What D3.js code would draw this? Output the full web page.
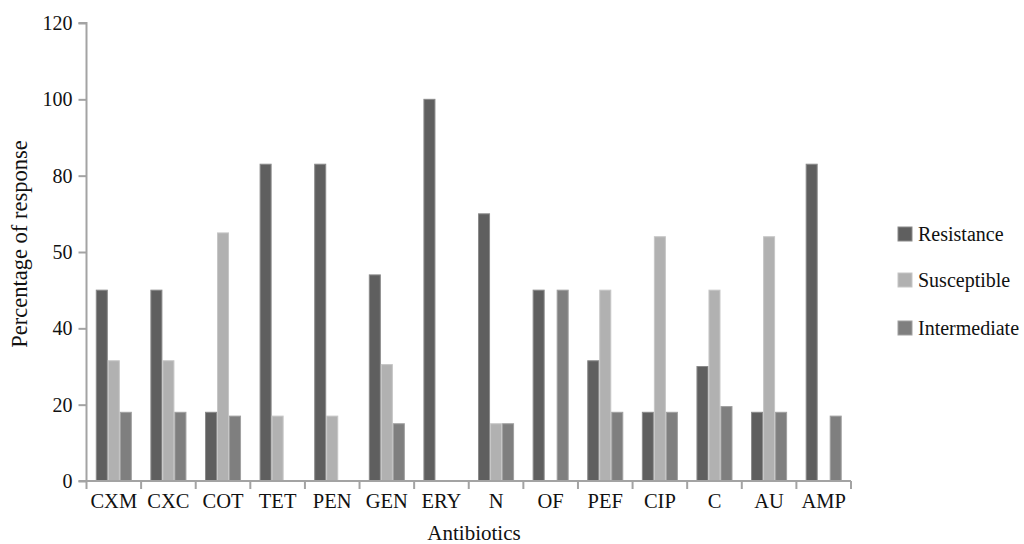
<!DOCTYPE html>
<html>
<head>
<meta charset="utf-8">
<script src="https://cdn.jsdelivr.net/npm/d3@7/dist/d3.min.js"></script>
<style>
  html, body { margin: 0; padding: 0; background: #fff; }
  svg { display: block; }
  svg text { font-family: "Liberation Serif", "Times New Roman", Tinos, "DejaVu Serif", "Noto Serif", serif !important; fill: #111; }
</style>
</head>
<body>
<svg id="chart" width="1024" height="544"></svg>
<script>
const categories = ["CXM","CXC","COT","TET","PEN","GEN","ERY","N","OF","PEF","CIP","C","AU","AMP"];
const seriesNames = ["Resistance","Susceptible","Intermediate"];
const resistance   = [50, 50, 18, 83, 83, 54, 100, 70, 50, 31.5, 18, 30, 18, 83];
const susceptible  = [31.5, 31.5, 65, 17, 17, 30.5, 0, 15, 0, 50, 64, 50, 64, 0];
const intermediate = [18, 18, 17, 0, 0, 15, 0, 15, 50, 18, 18, 19.5, 18, 17];
const tickValues = [0, 20, 40, 60, 80, 100, 120];
const tickLabels = ["0", "20", "40", "50", "80", "100", "120"];
const colors = ["#5f5f5f", "#b1b1b1", "#7f7f7f"];
const strokes = ["#8a8a8a", "#c6c6c6", "#a0a0a0"];

const values = [resistance, susceptible, intermediate];
const svg = d3.select("#chart");
const mLeft = 86.5, mRight = 851, mTop = 23, mBottom = 481;
const fontStack = '"Liberation Serif", "Times New Roman", Tinos, "DejaVu Serif", "Noto Serif", serif';

const x0 = d3.scaleBand().domain(categories).range([mLeft, mRight]).paddingInner(0.34).paddingOuter(0.17);
const x1 = d3.scaleBand().domain(seriesNames).range([0, x0.bandwidth()]);
const y = d3.scaleLinear().domain([0, 120]).range([mBottom, mTop]);
const xb = d3.scaleLinear().domain([0, categories.length]).range([mLeft, mRight]);

const axisColor = "#a3a3a3";

// bars
const groups = svg.append("g").selectAll("g").data(categories).join("g")
  .attr("transform", d => `translate(${x0(d)},0)`);
groups.selectAll("rect")
  .data((c, i) => seriesNames.map((s, k) => ({ s, k, v: values[k][i] })).filter(d => d.v > 0))
  .join("rect")
  .attr("x", d => x1(d.s) + 0.5)
  .attr("width", x1.bandwidth() - 1)
  .attr("y", d => y(d.v))
  .attr("height", d => y(0) - y(d.v))
  .attr("fill", d => colors[d.k])
  .attr("stroke", d => strokes[d.k])
  .attr("stroke-width", 1);

// y axis
const yAxis = d3.axisLeft(y).tickValues(tickValues).tickFormat((d, i) => tickLabels[i]).tickSize(8).tickPadding(6);
const gy = svg.append("g").attr("transform", `translate(${mLeft},0)`).call(yAxis)
  .attr("font-family", fontStack).attr("font-size", 20);
gy.select(".domain").attr("stroke", axisColor).attr("stroke-width", 2).attr("d", `M-8,${mTop}H0V${mBottom}`);
gy.selectAll(".tick line").attr("stroke", axisColor).attr("stroke-width", 2);
gy.selectAll(".tick text").attr("fill", "#111");

// x axis baseline + boundary ticks
const gx = svg.append("g").attr("transform", `translate(0,${mBottom})`);
gx.append("line").attr("x1", mLeft - 8).attr("x2", mRight).attr("y1", 0).attr("y2", 0)
  .attr("stroke", axisColor).attr("stroke-width", 2);
gx.selectAll("line.bt").data(d3.range(categories.length + 1)).join("line").attr("class", "bt")
  .attr("x1", d => xb(d)).attr("x2", d => xb(d)).attr("y1", 0).attr("y2", 8)
  .attr("stroke", axisColor).attr("stroke-width", 2);
const xAxis = d3.axisBottom(x0).tickSize(0).tickPadding(0);
const gxl = svg.append("g").attr("transform", `translate(0,${mBottom})`).call(xAxis)
  .attr("font-family", fontStack).attr("font-size", 20.5);
gxl.select(".domain").remove();
gxl.selectAll(".tick text").attr("dy", null).attr("y", 27).attr("fill", "#111");

// axis titles
svg.append("text").attr("x", 474).attr("y", 540).attr("text-anchor", "middle")
  .attr("font-family", fontStack).attr("font-size", 21).text("Antibiotics");
svg.append("text").attr("transform", "translate(27,244) rotate(-90)").attr("text-anchor", "middle")
  .attr("font-family", fontStack).attr("font-size", 22.5).text("Percentage of response");

// legend
const legendY = [234, 280, 328];
const lg = svg.append("g").selectAll("g").data(seriesNames).join("g")
  .attr("transform", (d, i) => `translate(898,${legendY[i]})`);
lg.append("rect").attr("x", 0).attr("y", -7).attr("width", 14).attr("height", 14)
  .attr("fill", (d, i) => colors[i]).attr("stroke", (d, i) => strokes[i]).attr("stroke-width", 1);
lg.append("text").attr("x", 20).attr("y", 6.5).attr("font-family", fontStack).attr("font-size", 20).text(d => d);
</script>
</body>
</html>
